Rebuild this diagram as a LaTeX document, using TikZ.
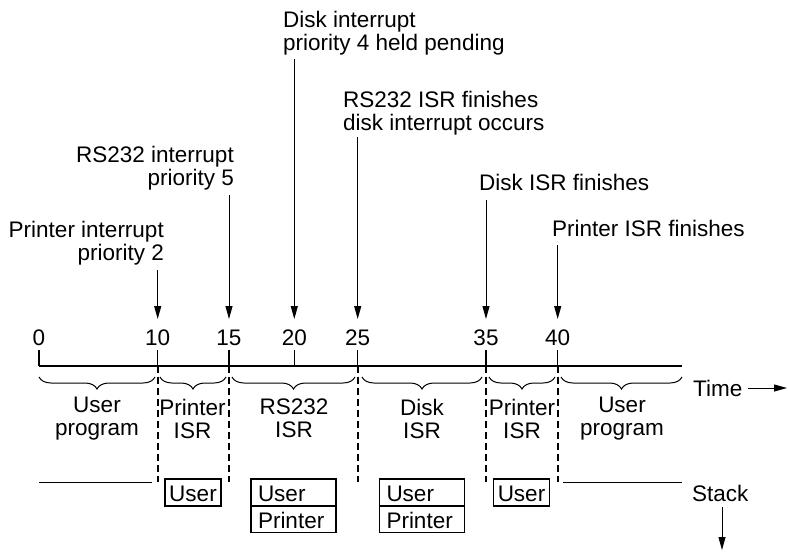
\documentclass[tikz,border=0pt]{standalone}
\usepackage{fontspec}
\setmainfont{Liberation Sans}
\usetikzlibrary{arrows.meta,decorations.pathreplacing}
\begin{document}
\begin{tikzpicture}[x=1pt,y=-1pt,
  every node/.style={font=\fontsize{22.5}{23}\selectfont, inner sep=0pt},
  arr/.style={line width=1pt,-{Triangle[length=13pt,width=7pt]}},
  axisline/.style={line width=2.2pt},
  tickmark/.style={line width=1.2pt},
  sepline/.style={line width=2pt,dash pattern=on 7pt off 4pt},
  brc/.style={line width=1pt,decorate,decoration={brace,mirror,amplitude=12pt}},
  stackline/.style={line width=1pt},
  stk/.style={draw,line width=1.8pt,minimum height=27pt,text height=20pt,text depth=2pt},
  stkwide/.style={stk,text width=71pt,align=left,inner xsep=7pt},
  stknarrow/.style={stk,minimum width=56pt,inner xsep=4pt},
]
\useasboundingbox (0,0) rectangle (788,552);

% axis
\coordinate (ax0) at (39,366);
\coordinate (axend) at (682,366);
\draw[axisline] (ax0) -- (axend);

% ticks and numbers
\foreach \x/\n in {39/0,157.7/10,229/15,294.3/20,357.7/25,486/35,557.7/40}{
  \node (n\n) at (\x,338) {\n};
  \coordinate (tt\n) at (\x,350);
  \coordinate (tb\n) at (\x,366);
  \draw[tickmark] (tt\n) -- (tb\n);
}

% dashed separators
\foreach \x/\n in {157.7/10,229/15,357.7/25,486/35,557.7/40}{
  \coordinate (db\n) at (\x,482);
  \draw[sepline] (tb\n) -- (db\n);
}

% event labels and arrows
\node[align=right,anchor=east] (pint) at (164,243) {Printer interrupt\\priority 2};
\node[align=right,anchor=east] (rint) at (234,168) {RS232 interrupt\\priority 5};
\node[align=left,anchor=west] (dint) at (283,33.5) {Disk interrupt\\priority 4 held pending};
\node[align=left,anchor=west] (rfin) at (343,113.5) {RS232 ISR finishes\\disk interrupt occurs};
\node[anchor=west] (dfin) at (479,182) {Disk ISR finishes};
\node[anchor=west] (pfin) at (552,228) {Printer ISR finishes};

\foreach \x/\n/\y in {157.7/10/270,229/15/195,294.3/20/59,357.7/25/137,486/35/200,557.7/40/245}{
  \coordinate (as\n) at (\x,\y);
  \coordinate (ae\n) at (\x,319);
  \draw[arr] (as\n) -- (ae\n);
}

% braces
\foreach \a/\b/\k in {39/155/1,160/226/2,232/355/3,362/482/4,489/555/5,561/682/6}{
  \coordinate (bl\k) at (\a,377);
  \coordinate (br\k) at (\b,377);
  \draw[brc] (bl\k) -- (br\k);
}

% phase labels
\node[align=center] (ph1) at (97,418.5) {User\\program};
\node[align=center] (ph2) at (192.5,418.5) {Printer\\ISR};
\node[align=center] (ph3) at (294,418.5) {RS232\\ISR};
\node[align=center] (ph4) at (422,418.5) {Disk\\ISR};
\node[align=center] (ph5) at (522,418.5) {Printer\\ISR};
\node[align=center] (ph6) at (622,418.5) {User\\program};

% time
\node[anchor=west] (time) at (693,388) {Time};
\coordinate (timeend) at (787,388);
\draw[arr] ([xshift=5pt]time.east) -- (timeend);

% stack
\coordinate (sl1) at (39,482);
\coordinate (sl2) at (152,482);
\coordinate (sr1) at (563,482);
\coordinate (sr2) at (682,482);
\draw[stackline] (sl1) -- (sl2);
\draw[stackline] (sr1) -- (sr2);

\node[stknarrow] (b1) at (193,492.5) {User};
\node[stkwide] (b2u) at (293.5,492.5) {User};
\node[stkwide] (b2p) at (293.5,519) {Printer};
\node[stkwide] (b3u) at (422,492.5) {User};
\node[stkwide] (b3p) at (422,519) {Printer};
\node[stknarrow] (b4) at (521.5,492.5) {User};

\node[anchor=west] (stack) at (692,493) {Stack};
\coordinate (stackend) at (722,550);
\draw[arr] ([yshift=-6pt]stack.south -| stackend) -- (stackend);
\end{tikzpicture}
\end{document}
